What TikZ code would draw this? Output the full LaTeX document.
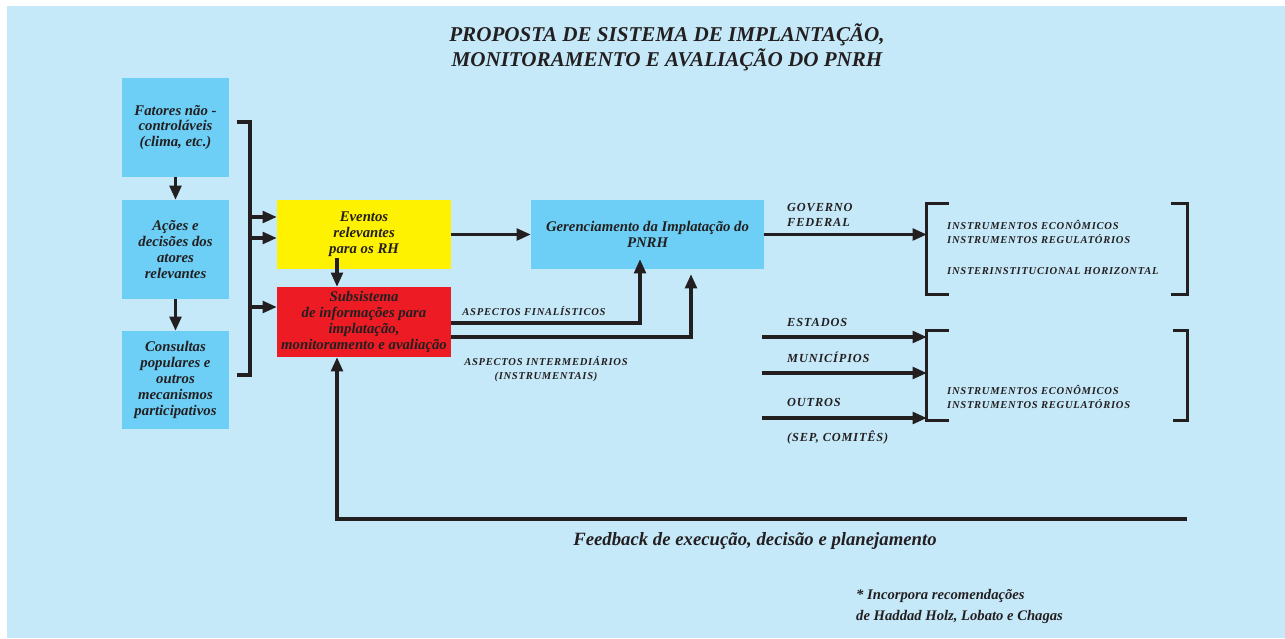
\documentclass[tikz,border=0pt]{standalone}
\usepackage{fontspec}
\setmainfont{Liberation Serif}
\newfontfamily\capsfont[LetterSpace=7]{Liberation Serif}
\usetikzlibrary{arrows.meta}

\definecolor{bgcolor}{HTML}{C6E9F9}
\definecolor{boxcolor}{HTML}{6DCFF6}
\definecolor{evtcolor}{HTML}{FFF200}
\definecolor{subcolor}{HTML}{ED1C24}
\definecolor{inkcolor}{HTML}{231F20}

\begin{document}
\begin{tikzpicture}[
    x=0.03cm, y=-0.03cm,
    font=\bfseries\itshape,
    text=inkcolor,
    %% Left column centres:  x = 175.5   rows y = 127.5  249.5  380
    %% Middle column:        x = 364     (Eventos / Subsistema)
    line/.style={draw=inkcolor, line width=2.6pt},
    arr/.style={line, -{Triangle[length=12pt, width=10pt]}},
    blk/.style={inner sep=1pt, align=center,
                font=\fontsize{12.6}{13.6}\selectfont\bfseries\itshape},
    lbox/.style={blk, fill=boxcolor, minimum width=3.21cm, minimum height=2.97cm},
    evtbox/.style={blk, fill=evtcolor, minimum width=5.22cm, minimum height=2.07cm},
    subbox/.style={blk, fill=subcolor, minimum width=5.22cm, minimum height=2.1cm},
    gerbox/.style={blk, fill=boxcolor, minimum width=6.99cm, minimum height=2.07cm},
    brk/.style={inner sep=0pt, minimum width=7.8cm},
    caplbl/.style={inner sep=0pt, align=left,
                   font=\capsfont\fontsize{9}{12}\selectfont\bfseries\itshape},
    govlbl/.style={inner sep=0pt, align=left, anchor=west,
                   font=\capsfont\fontsize{10.5}{13.3}\selectfont\bfseries\itshape},
]

%% ── Background ───────────────────────────────────────────────────────────
\useasboundingbox (0,0) rectangle (1285,638);
\fill[white] (0,0) rectangle (1285,638);
\fill[bgcolor] (7,6) rectangle (1285,638);

%% ── Title ────────────────────────────────────────────────────────────────
\node[align=center, font=\fontsize{18}{21.3}\selectfont\bfseries\itshape]
    (title) at (667,47.5)
    {PROPOSTA DE SISTEMA DE IMPLANTAÇÃO,\\MONITORAMENTO E AVALIAÇÃO DO PNRH};

%% ── Left column ──────────────────────────────────────────────────────────
\node[lbox] (fat)   at (175.5,127.5) {Fatores não -\\controláveis\\(clima, etc.)};
\node[lbox] (acoes) at (175.5,249.5) {Ações e\\decisões dos\\atores\\relevantes};
\node[lbox, minimum height=2.94cm] (cons) at (175.5,380)
    {Consultas\\populares e\\outros\\mecanismos\\participativos};

\draw[arr] (fat) -- (acoes);
\draw[arr] (acoes) -- (cons);

%% bracket gathering the three boxes
\draw[line] (237,122) -- (250,122) -- (250,375) -- (237,375);
\coordinate (b1) at (250,217);
\coordinate (b2) at (250,238);
\coordinate (b3) at (250,307);

%% ── Middle column ────────────────────────────────────────────────────────
\node[evtbox] (evt) at (364,234.5) {Eventos\\relevantes\\para os RH};
\node[subbox] (sub) at (364,322)
    {Subsistema\\de informações para\\implatação,\\monitoramento e avaliação};
\node[gerbox] (ger) at (647.5,234.5) {Gerenciamento da Implatação do\\PNRH};

\draw[arr] (b1) -- (b1 -| evt.west);
\draw[arr] (b2) -- (b2 -| evt.west);
\draw[arr] (b3) -- (b3 -| sub.west);

\coordinate (fbx) at (337,519);
\draw[arr] ([yshift=0.33cm]evt.south -| fbx) -- (sub.north -| fbx);
\draw[arr] (evt.east) -- (ger.west);

%% ── Aspectos ─────────────────────────────────────────────────────────────
\coordinate (fin) at (640,323);
\coordinate (int) at (691,337);
\draw[arr] (sub.east |- fin) -- (fin) -- ([yshift=0.3cm]fin |- ger.south);
\draw[arr] (sub.east |- int) -- (int) -- ([yshift=-0.15cm]int |- ger.south);

\node[caplbl] (finlbl) at (534,311) {ASPECTOS FINALÍSTICOS};
\node[caplbl, align=center] (intlbl) at (546,369.5)
    {ASPECTOS INTERMEDIÁRIOS\\(INSTRUMENTAIS)};

%% ── Governo federal ──────────────────────────────────────────────────────
\node[brk, minimum height=2.7cm] (br1) at (1057,249) {};
\draw[line] ([xshift=0.66cm]br1.north west) -- (br1.north west)
         -- (br1.south west) -- ([xshift=0.66cm]br1.south west);
\draw[line] ([xshift=-0.48cm]br1.north east) -- (br1.north east)
         -- (br1.south east) -- ([xshift=-0.48cm]br1.south east);

\draw[arr] (ger.east) -- (ger.east -| br1.west);
\node[govlbl] (gov) at (787,215) {GOVERNO\\FEDERAL};

\node[caplbl, anchor=west] (ins1) at (947,232)
    {INSTRUMENTOS ECONÔMICOS\\INSTRUMENTOS REGULATÓRIOS};
\node[caplbl, anchor=west] (hor) at (947,271) {INSTERINSTITUCIONAL HORIZONTAL};

%% ── Estados / municípios / outros ────────────────────────────────────────
\node[brk, minimum height=2.67cm] (br2) at (1057,375.5) {};
\draw[line] ([xshift=0.66cm]br2.north west) -- (br2.north west)
         -- (br2.south west) -- ([xshift=0.66cm]br2.south west);
\draw[line] ([xshift=-0.42cm]br2.north east) -- (br2.north east)
         -- (br2.south east) -- ([xshift=-0.42cm]br2.south east);

\coordinate (est) at (762,337);
\coordinate (mun) at (762,373);
\coordinate (out) at (762,418);
\draw[arr] (est) -- (est -| br2.west);
\draw[arr] (mun) -- (mun -| br2.west);
\draw[arr] (out) -- (out -| br2.west);

\node[govlbl] (estlbl) at (787,322) {ESTADOS};
\node[govlbl] (munlbl) at (787,357) {MUNICÍPIOS};
\node[govlbl] (outlbl) at (787,402) {OUTROS};
\node[govlbl] (seplbl) at (787,437) {(SEP, COMITÊS)};

\node[caplbl, anchor=west] (ins2) at (947,397)
    {INSTRUMENTOS ECONÔMICOS\\INSTRUMENTOS REGULATÓRIOS};

%% ── Feedback ─────────────────────────────────────────────────────────────
\coordinate (fbend) at (1187,519);
\draw[arr] (fbend) -- (fbx) -- (sub.south -| fbx);
\node[font=\fontsize{16}{18}\selectfont\bfseries\itshape] (fblbl) at (755,541)
    {Feedback de execução, decisão e planejamento};

%% ── Note ─────────────────────────────────────────────────────────────────
\node[inner sep=0pt, anchor=west, align=left,
      font=\fontsize{12.5}{18.5}\selectfont\bfseries\itshape] (note) at (856,606.5)
    {* Incorpora recomendações\\de Haddad Holz, Lobato e Chagas};

\end{tikzpicture}
\end{document}
